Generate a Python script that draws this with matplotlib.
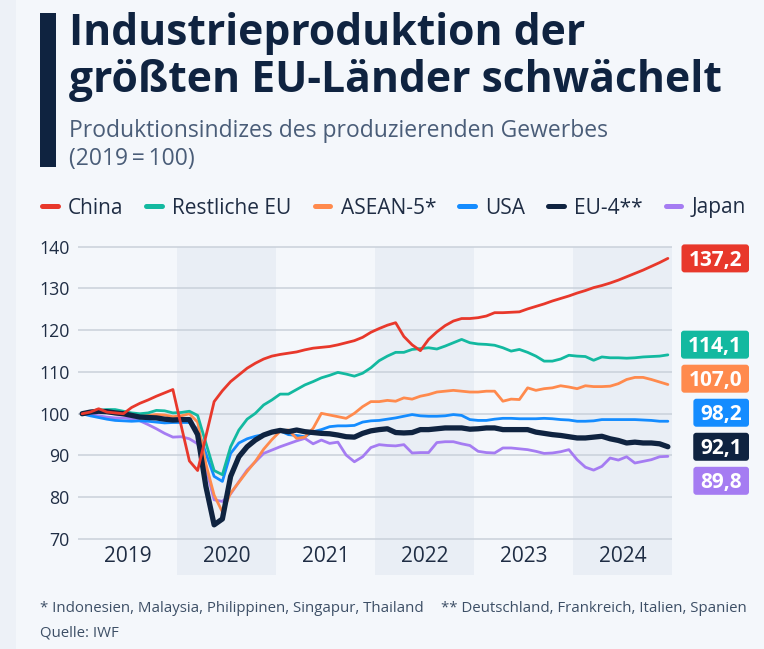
import numpy as np
import matplotlib
matplotlib.use("Agg")
import matplotlib.pyplot as plt
from matplotlib.lines import Line2D
from matplotlib.patches import Rectangle, FancyBboxPatch
from matplotlib.transforms import ScaledTranslation, IdentityTransform, blended_transform_factory

plt.rcParams['font.family'] = ['Open Sans', 'DejaVu Sans']

# monthly index values, Jan 2019 - Dec 2024 (2019 = 100)
china = [100.0, 100.4, 101.2, 100.4, 100.2, 100.0, 101.5, 102.5, 103.3, 104.2, 105.0, 105.8,
         97.2, 88.7, 86.4, 94.6, 102.9, 105.5, 107.7, 109.3, 110.9, 112.1, 113.1, 113.8,
         114.2, 114.5, 114.8, 115.3, 115.7, 115.9, 116.1, 116.5, 117.0, 117.5, 118.3, 119.5,
         120.4, 121.2, 121.8, 118.5, 116.5, 115.1, 117.8, 119.6, 121.1, 122.2, 122.8, 122.8,
         123.0, 123.4, 124.2, 124.2, 124.3, 124.4, 125.1, 125.7, 126.3, 127.0, 127.6, 128.2,
         128.9, 129.5, 130.2, 130.7, 131.3, 132.0, 132.8, 133.6, 134.4, 135.3, 136.2, 137.2]
rest_eu = [100.0, 100.5, 100.8, 101.0, 101.0, 100.6, 100.2, 100.0, 100.2, 100.8, 100.7, 100.2,
           100.3, 100.6, 99.6, 93.0, 86.4, 85.4, 92.1, 96.1, 98.7, 100.1, 102.1, 103.3,
           104.7, 104.7, 105.8, 106.9, 107.7, 108.6, 109.2, 109.9, 109.5, 109.0, 109.7, 111.0,
           112.7, 113.8, 114.7, 114.7, 115.4, 115.6, 115.8, 115.5, 116.2, 117.0, 117.8, 117.0,
           116.7, 116.6, 116.4, 115.8, 115.0, 115.4, 114.7, 113.8, 112.6, 112.6, 113.1, 114.0,
           113.8, 113.7, 112.8, 113.6, 113.4, 113.4, 113.3, 113.4, 113.6, 113.7, 113.8, 114.1]
asean5 = [100.0, 100.3, 100.5, 100.3, 100.0, 99.7, 99.6, 99.5, 99.6, 99.8, 99.7, 99.3,
          99.5, 100.0, 98.0, 88.0, 80.5, 76.5, 81.0, 83.6, 86.2, 88.6, 91.5, 93.8,
          95.8, 96.1, 94.1, 94.4, 96.5, 100.1, 99.7, 99.3, 98.9, 100.1, 101.7, 102.9,
          102.9, 103.2, 103.0, 103.8, 103.5, 104.2, 104.6, 105.2, 105.4, 105.6, 105.4, 105.2,
          105.2, 105.4, 105.4, 103.0, 103.5, 103.4, 106.2, 105.6, 106.0, 106.2, 106.7, 106.4,
          106.0, 106.7, 106.5, 106.5, 106.6, 107.2, 108.2, 108.7, 108.7, 108.2, 107.6, 107.0]
usa = [100.0, 99.5, 99.1, 98.7, 98.4, 98.3, 98.2, 98.3, 98.2, 98.0, 97.8, 97.9,
       97.9, 97.9, 96.3, 90.5, 85.0, 83.8, 90.5, 93.0, 94.0, 94.6, 95.0, 95.5,
       95.9, 95.0, 94.8, 94.5, 95.7, 96.2, 96.9, 97.1, 97.1, 97.2, 98.0, 98.3,
       98.4, 98.7, 99.0, 99.4, 99.8, 99.5, 99.4, 99.4, 99.5, 99.8, 99.6, 98.6,
       98.4, 98.4, 98.7, 98.9, 98.9, 98.8, 98.8, 98.8, 98.9, 98.8, 98.6, 98.5,
       98.2, 98.2, 98.3, 98.6, 98.6, 98.6, 98.6, 98.6, 98.5, 98.4, 98.2, 98.2]
eu4 = [100.0, 100.4, 100.6, 100.5, 100.2, 100.0, 99.6, 99.2, 99.1, 99.0, 98.7, 98.5,
       98.6, 98.6, 95.0, 82.6, 73.4, 74.8, 85.0, 89.7, 92.1, 93.7, 94.9, 95.6,
       96.0, 95.7, 96.1, 95.7, 95.5, 95.3, 95.2, 94.9, 94.5, 94.4, 95.3, 95.9,
       96.2, 96.4, 95.5, 95.4, 95.5, 96.2, 96.2, 96.4, 96.6, 96.6, 96.6, 96.3,
       96.4, 96.6, 96.6, 96.2, 96.2, 96.2, 96.2, 95.6, 95.3, 95.0, 94.8, 94.5,
       94.2, 94.2, 94.4, 94.6, 94.0, 93.6, 93.0, 93.2, 93.0, 93.0, 92.8, 92.1]
japan = [100.0, 99.8, 99.5, 99.2, 99.0, 99.0, 98.8, 98.3, 97.4, 96.4, 95.3, 94.4,
         94.5, 94.0, 92.8, 87.0, 79.4, 79.0, 80.8, 83.7, 86.5, 88.5, 90.5, 91.3,
         92.1, 92.8, 93.5, 94.1, 92.8, 93.7, 92.9, 93.2, 90.1, 88.5, 89.7, 91.9,
         92.6, 92.4, 92.3, 92.6, 90.6, 90.7, 90.7, 93.1, 93.3, 93.3, 92.8, 92.4,
         91.0, 90.7, 90.6, 91.8, 91.8, 91.6, 91.4, 91.0, 90.5, 90.6, 90.9, 91.4,
         89.0, 87.2, 86.5, 87.4, 89.4, 88.9, 89.7, 88.2, 88.6, 89.0, 89.7, 89.8]

names = ["China", "Restliche EU", "ASEAN-5*", "USA", "EU-4**", "Japan"]
final_labels = ["137,2", "114,1", "107,0", "98,2", "92,1", "89,8"]
years = [2019, 2020, 2021, 2022, 2023, 2024]
yticks = [70, 80, 90, 100, 110, 120, 130, 140]

series = [china, rest_eu, asean5, usa, eu4, japan]
colors = ["#e8382b", "#13b9a0", "#ff8a4d", "#148cff", "#0f2340", "#a57cf2"]
widths = [2.0, 2.0, 2.0, 2.0, 3.8, 2.0]
zorders = [8, 6, 5, 4, 7, 3]

navy = "#0f2340"
bg = "#f4f7fb"
band = "#e9eef5"
txt = "#1f2d44"

W, H = 764, 649
fig = plt.figure(figsize=(W / 100, H / 100), dpi=100, facecolor=bg)

# slightly darker strip at the very left edge
fig.add_artist(Rectangle((0, 0), 16 / W, 1, transform=fig.transFigure, color="#edf1f7", lw=0))

# axes placed in pixels: x 78..672, y 140 at 246.7 px, 10 units = 41.76 px
px_per = 4.176
ytop, ybot = 140.3, 61.4
top_px = 246.7 - (ytop - 140) * px_per
bot_px = 246.7 + (140 - ybot) * px_per
ax = fig.add_axes([78 / W, 1 - bot_px / H, 594 / W, (bot_px - top_px) / H])
ax.set_facecolor(bg)
ax.set_xlim(2019, 2025)
ax.set_ylim(ybot, ytop)
for s in ax.spines.values():
    s.set_visible(False)

# shaded alternate years
for y in years[1::2]:
    ax.axvspan(y, y + 1, ymin=0, ymax=(140 - ybot) / (ytop - ybot), color=band, lw=0, zorder=0)

ax.set_xticks([])
ax.set_yticks(yticks)
ax.tick_params(axis="y", length=0, pad=6, labelsize=12.8, labelcolor=txt)
ax.grid(axis="y", color="#c9d0da", lw=1.1, zorder=1)
ax.set_axisbelow(True)

for y in years:
    ax.text(y + 0.5, 65.7, str(y), ha="center", va="center", fontsize=15, color=txt)

x = 2019 + (np.arange(72) + 0.5) / 12
for vals, c, lw, z in zip(series, colors, widths, zorders):
    ax.plot(x, vals, color=c, lw=lw, zorder=z, solid_joinstyle="round", solid_capstyle="round")


# end value boxes, spread so they don't overlap
def spread(values, gap):
    order = list(np.argsort(values)[::-1])
    groups = [[i] for i in order]

    def place(g):
        m = np.mean([values[i] for i in g])
        return [m + gap * ((len(g) - 1) / 2 - k) for k in range(len(g))]

    merged = True
    while merged:
        merged = False
        for k in range(len(groups) - 1):
            if place(groups[k])[-1] - place(groups[k + 1])[0] < gap:
                groups[k] = groups[k] + groups[k + 1]
                del groups[k + 1]
                merged = True
                break
    pos = {}
    for g in groups:
        for i, p in zip(g, place(g)):
            pos[i] = p
    return [pos[i] for i in range(len(values))]


finals = [s[-1] for s in series]
label_y = spread(finals, 8.15)
tr = blended_transform_factory(fig.transFigure, ax.transData)
shift = ScaledTranslation(0, -7.5 / 100, fig.dpi_scale_trans)
label_texts = []
for lab, ly in zip(final_labels, label_y):
    t = ax.text(742 / W, ly, lab, transform=tr + shift, ha="right", va="baseline", fontsize=15,
                fontweight="bold", color="white", zorder=10)
    label_texts.append(t)

fig.canvas.draw()
for t, ly, c in zip(label_texts, label_y, colors):
    bb = t.get_window_extent()
    cy = tr.transform((0, ly))[1]
    x0 = bb.x0 - 7
    box = FancyBboxPatch((x0, cy - 14), 749 - x0, 28, boxstyle="round,pad=0,rounding_size=3",
                         fc=c, ec="none", transform=IdentityTransform(), zorder=9)
    fig.add_artist(box)
    # keep text above the box
    t.remove()
    fig.add_artist(t)
    t.set_zorder(11)

# title block
fig.add_artist(Rectangle((40 / W, 1 - 167 / H), 16 / W, 154 / H, transform=fig.transFigure,
                         color=navy, lw=0))
fig.text(69 / W, 1 - 45 / H, "Industrieproduktion der", fontsize=30.7, fontweight="bold",
         color=navy, va="baseline")
fig.text(69 / W, 1 - 91.5 / H, "größten EU-Länder schwächelt", fontsize=30.7, fontweight="bold",
         color=navy, va="baseline")
fig.text(69 / W, 1 - 137 / H, "Produktionsindizes des produzierenden Gewerbes", fontsize=16.5,
         color="#4a5d78", va="baseline")
fig.text(69 / W, 1 - 165 / H, "(2019\u2009=\u2009100)", fontsize=16.5, color="#4a5d78", va="baseline")

# legend
handles = [Line2D([], [], color=c, lw=3.6, solid_capstyle="round") for c in colors]
fig.legend(handles, names, loc="center left", bbox_to_anchor=(42 / W, 1 - 208 / H), ncol=6,
           frameon=False, fontsize=15, handlelength=0.75, handletextpad=0.5, columnspacing=1.1,
           borderpad=0, borderaxespad=0, labelcolor=txt)

# footnotes
fig.text(40 / W, 1 - 611.5 / H, "* Indonesien, Malaysia, Philippinen, Singapur, Thailand",
         fontsize=10.8, color="#3d4f66", va="baseline")
fig.text(441 / W, 1 - 611.5 / H, "** Deutschland, Frankreich, Italien, Spanien",
         fontsize=10.8, color="#3d4f66", va="baseline")
fig.text(40 / W, 1 - 636.5 / H, "Quelle: IWF", fontsize=10.8, color="#3d4f66", va="baseline")

fig.savefig("out.png", dpi=100, facecolor=bg)
